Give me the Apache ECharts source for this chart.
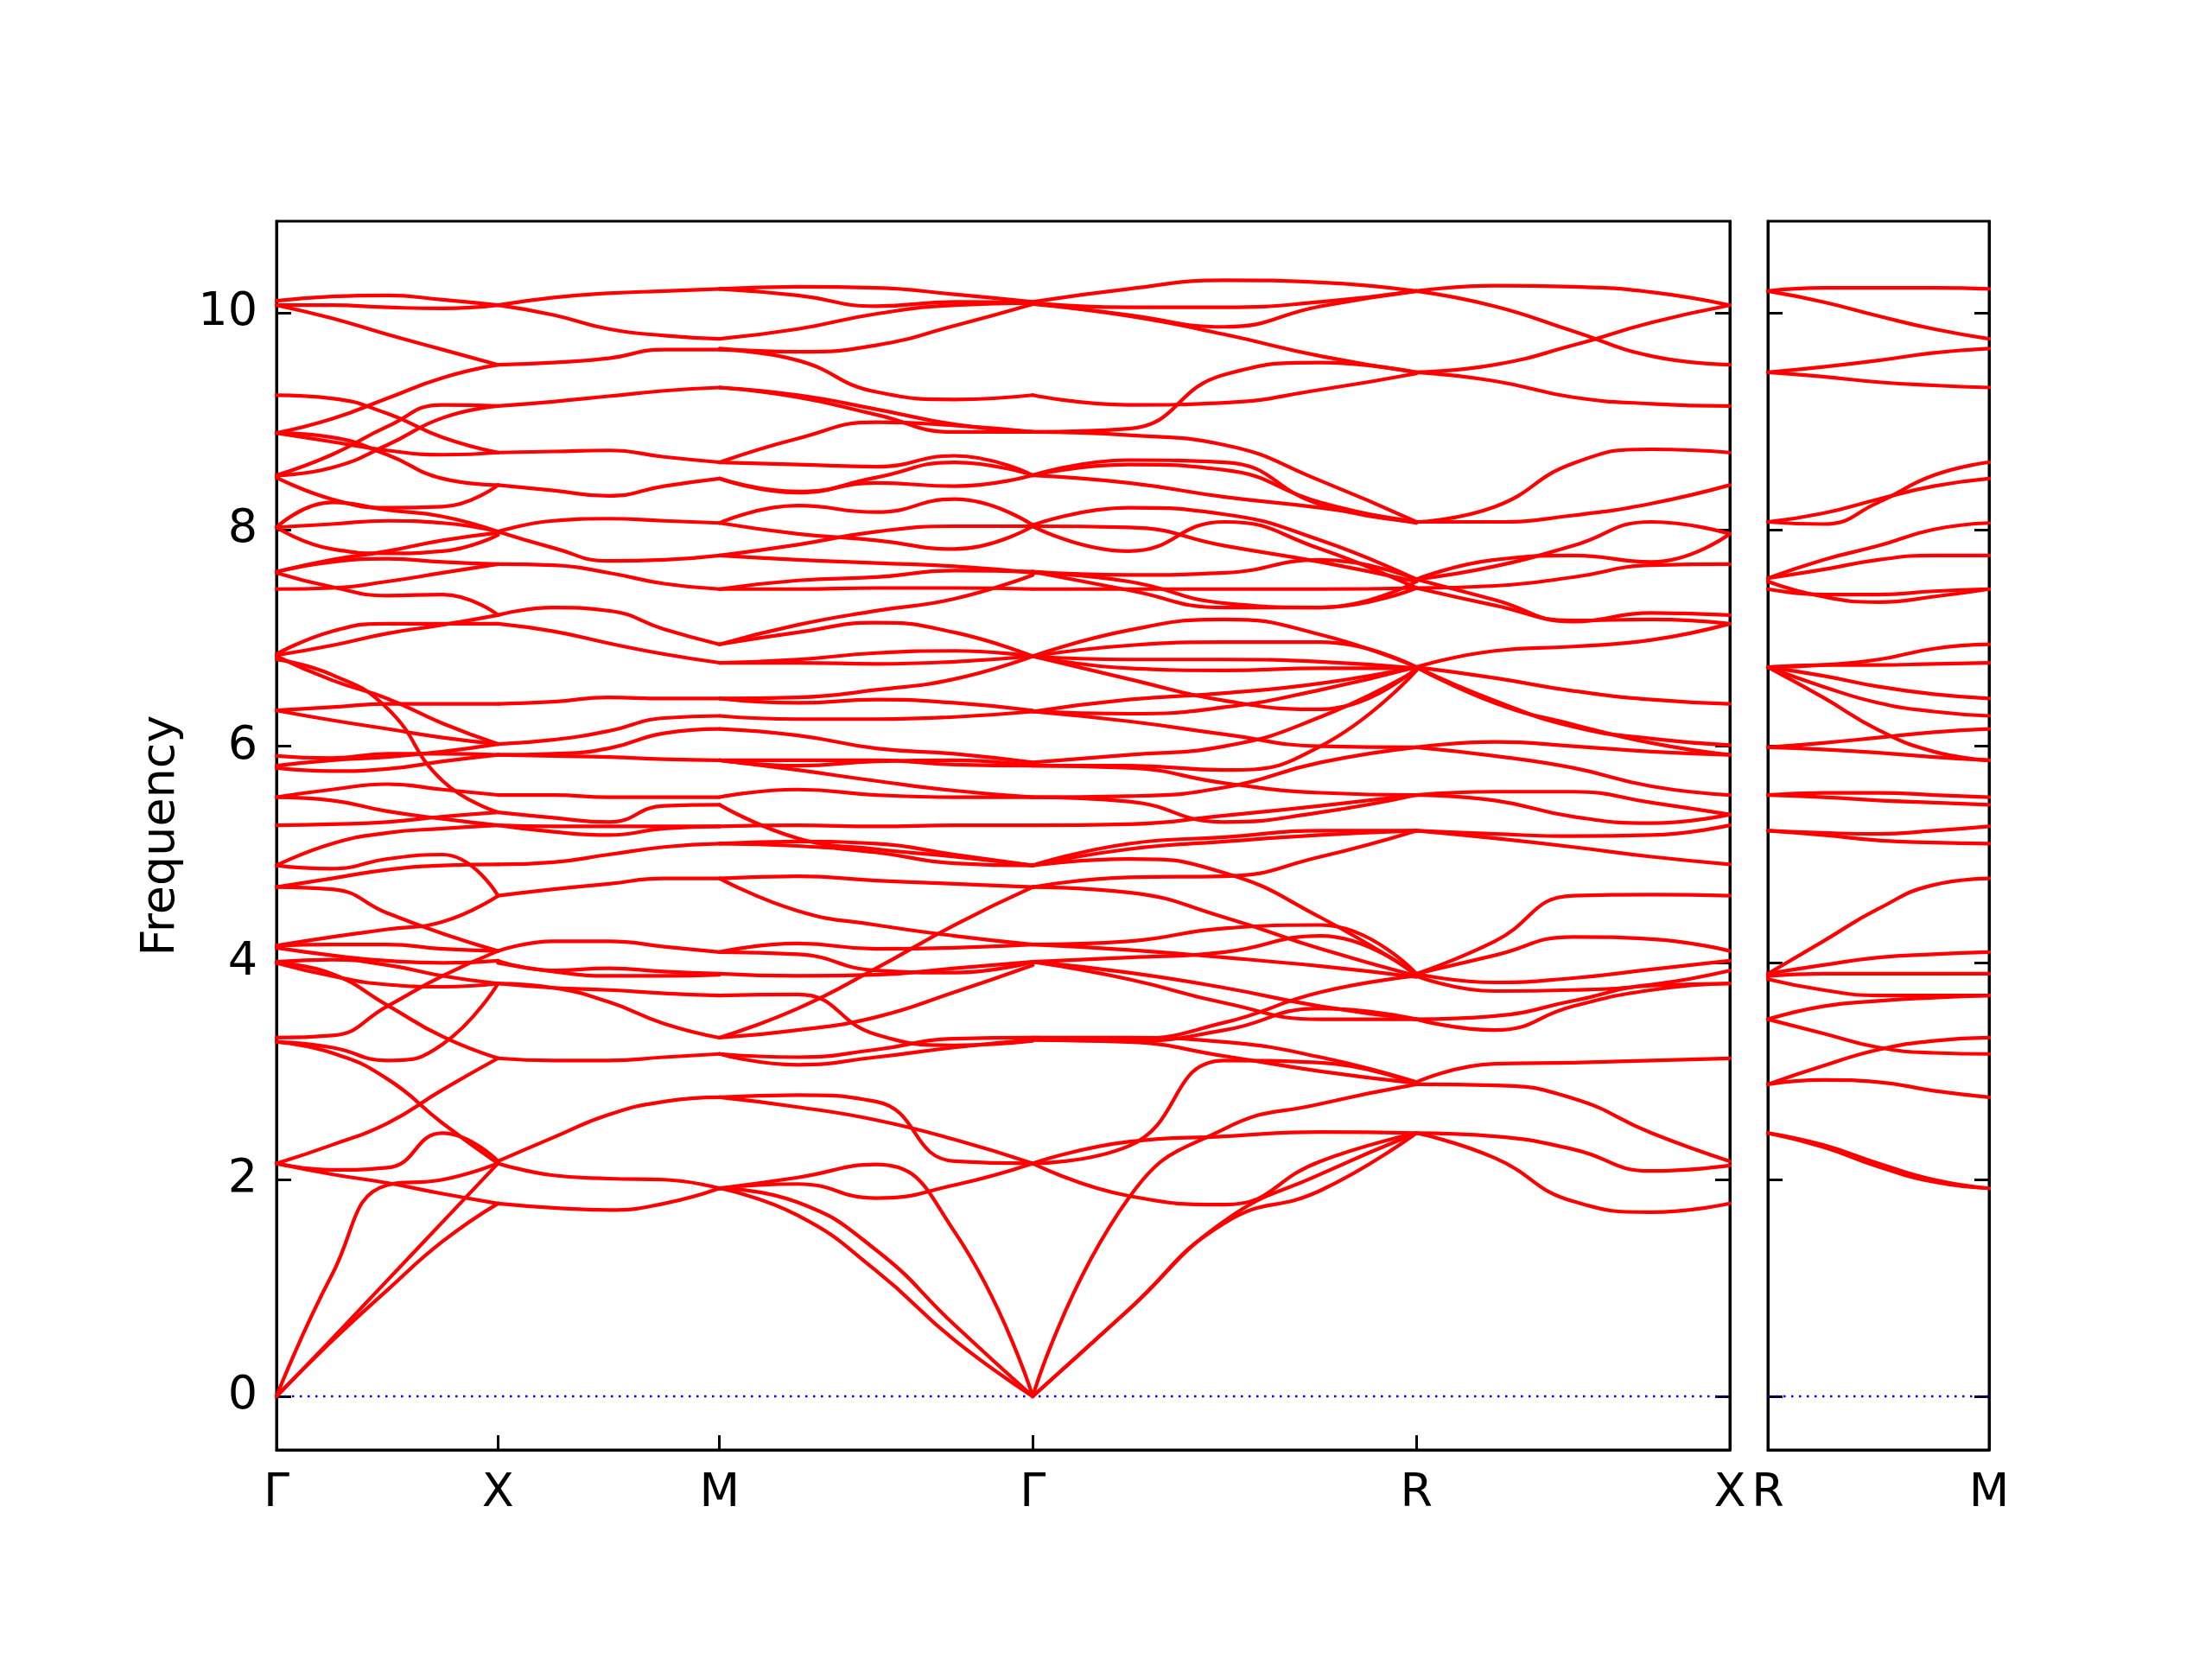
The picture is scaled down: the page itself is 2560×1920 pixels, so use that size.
<!DOCTYPE html>
<html><head><meta charset="utf-8">
<script src="https://cdn.jsdelivr.net/npm/echarts@6/dist/echarts.min.js"></script>
<style>html,body{margin:0;padding:0;background:#fff;}#chart{width:2560px;height:1920px;}</style>
</head><body><div id="chart"></div>
<script>
// High-symmetry path (distances in units of reciprocal lattice length)
const pathLabelsMain = ['Γ','X','M','Γ','R','X'];
const pathPosMain = [0, 1, 2, 3.414, 5.146, 6.561];
const pathLabelsSide = ['R','M'];
const pathPosSide = [0, 1];
const yTicks = [0, 2, 4, 6, 8, 10];

// Each band: frequencies at fractions 0, 1/4, 1/2, 3/4, 1 of the segment
const bandsGX = [
 [10.11,10.15,10.16,10.12,10.07],[10.07,10.07,10.05,10.04,10.07],[10.07,9.95,9.80,9.66,9.52],
 [8.89,9.02,9.21,9.40,9.52],[9.24,9.21,9.07,8.85,8.71],[8.50,8.69,8.95,9.15,9.14],
 [8.50,8.57,8.78,9.03,9.14],[8.89,8.81,8.73,8.69,8.71],[8.89,8.85,8.69,8.47,8.41],
 [8.48,8.28,8.20,8.21,8.41],[8.02,8.25,8.18,8.12,7.98],[8.02,8.05,8.08,8.06,7.98],
 [8.02,7.82,7.78,7.80,7.95],[7.61,7.70,7.73,7.70,7.68],[7.60,7.47,7.39,7.40,7.21],
 [7.45,7.46,7.52,7.60,7.68],[7.61,7.72,7.80,7.90,7.97],[6.85,7.06,7.13,7.13,7.13],
 [6.84,6.93,7.04,7.12,7.21],[6.33,6.36,6.39,6.39,6.39],[6.33,6.24,6.16,6.08,6.02],
 [6.83,6.61,6.44,6.21,6.02],[6.80,6.66,6.35,5.68,5.39],[5.91,5.89,5.93,5.93,5.92],
 [5.82,5.87,5.90,5.95,6.02],[5.80,5.77,5.79,5.86,5.92],[5.53,5.60,5.65,5.60,5.55],
 [5.53,5.50,5.40,5.33,5.27],[5.27,5.28,5.30,5.35,5.39],[4.90,5.10,5.20,5.24,5.27],
 [4.90,4.87,4.96,5.00,4.62],[4.70,4.78,4.86,4.90,4.91],[4.70,4.68,4.46,4.27,4.11],
 [4.16,4.24,4.31,4.38,4.62],[4.16,4.17,4.17,4.13,4.11],[4.14,4.07,4.02,4.00,4.02],
 [4.01,4.03,3.98,3.88,3.81],[4.00,3.88,3.80,3.78,3.81],[4.00,3.90,3.61,3.32,3.12],
 [3.31,3.33,3.60,3.88,4.11],[3.27,3.22,3.10,3.25,3.81],[2.15,2.32,2.52,2.83,3.12],
 [3.27,3.17,2.93,2.52,2.15],[2.15,2.09,2.11,2.43,2.17],[0,1.12,1.95,2.00,2.15],
 [2.15,2.05,1.97,1.87,1.78],[0,0.53,1.07,1.61,2.15],[0,0.51,0.98,1.43,1.78]
];
const bandsXM = [
 [10.07,10.14,10.18,10.20,10.22],[10.07,9.98,9.85,9.79,9.76],[9.52,9.54,9.58,9.66,9.66],
 [9.14,9.18,9.23,9.28,9.31],[8.71,8.72,8.73,8.67,8.62],[8.41,8.36,8.31,8.40,8.47],
 [7.98,8.08,8.10,8.08,8.06],[7.98,7.83,7.71,7.72,7.76],[7.68,7.67,7.60,7.50,7.45],
 [7.21,7.28,7.25,7.08,6.94],[7.13,7.06,6.95,6.85,6.77],
 [6.39,6.41,6.45,6.44,6.44],[6.02,6.06,6.14,6.26,6.28],[5.92,5.93,5.98,6.12,6.16],
 [5.92,5.91,5.90,5.88,5.87],[5.55,5.55,5.53,5.53,5.53],[5.39,5.34,5.30,5.45,5.46],
 [5.27,5.26,5.26,5.26,5.26],[5.27,5.21,5.18,5.24,5.26],[4.91,4.93,5.00,5.07,5.10],
 [4.62,4.68,4.73,4.78,4.78],[4.11,4.20,4.20,4.15,4.10],[4.02,3.93,3.95,3.92,3.90],
 [4.00,3.92,3.88,3.88,3.89],[3.81,3.77,3.75,3.72,3.70],[3.81,3.77,3.64,3.44,3.31],
 [3.12,3.10,3.10,3.13,3.16],
 [2.17,2.39,2.60,2.72,2.76],[2.15,2.04,2.01,2.00,1.92],[1.78,1.74,1.72,1.78,1.92]
];
const bandsMG = [
 [10.22,10.24,10.23,10.17,10.10],[10.22,10.16,10.06,10.10,10.09],[9.76,9.85,9.99,10.07,10.09],
 [9.67,9.64,9.70,9.88,10.08],[9.66,9.56,9.27,9.20,9.24],[9.31,9.24,9.11,8.97,8.90],
 [9.31,9.22,9.06,8.90,8.90],[8.62,8.84,8.99,8.96,8.90],[8.62,8.60,8.58,8.68,8.50],
 [8.47,8.35,8.48,8.62,8.50],[8.47,8.34,8.43,8.40,8.50],[8.06,8.22,8.16,8.28,8.04],
 [8.06,7.96,7.90,7.82,8.03],[7.76,7.86,7.98,8.03,8.03],[7.76,7.72,7.69,7.66,7.60],
 [7.45,7.45,7.46,7.46,7.45],[7.45,7.53,7.56,7.62,7.61],[6.94,7.12,7.25,7.36,7.58],
 [6.94,7.05,7.14,7.05,6.83],[6.77,6.77,6.76,6.78,6.83],[6.77,6.80,6.86,6.88,6.83],
 [6.44,6.45,6.52,6.62,6.83],[6.44,6.40,6.43,6.40,6.33],[6.28,6.25,6.25,6.27,6.32],
 [6.16,6.10,5.98,5.93,5.85],[5.87,5.87,5.87,5.83,5.82],[5.87,5.78,5.68,5.59,5.53],
 [5.87,5.82,5.86,5.87,5.82],[5.53,5.60,5.55,5.53,5.53],[5.46,5.15,5.05,4.98,4.90],
 [5.26,5.27,5.26,5.27,5.27],[5.10,5.12,5.10,5.00,4.90],[5.10,5.08,5.02,4.92,4.90],
 [4.78,4.80,4.76,4.73,4.70],[4.78,4.48,4.35,4.25,4.17],[4.10,4.18,4.13,4.14,4.17],
 [4.10,4.08,3.93,3.91,4.01],[3.90,3.88,3.89,3.95,4.01],[3.70,3.71,3.34,3.24,3.28],
 [3.31,3.58,3.95,4.35,4.70],[3.31,3.38,3.50,3.73,3.98],[3.16,3.06,3.13,3.22,3.29],
 [3.16,3.13,3.20,3.30,3.31],
 [2.76,2.78,2.72,2.17,2.15],[2.76,2.67,2.55,2.37,2.15],[1.92,2.02,2.14,1.52,0],
 [1.92,1.96,1.83,1.95,2.15],[1.92,1.67,1.16,0.52,0],[1.92,1.79,1.35,0.66,0]
];
const bandsGR = [
 [10.10,10.22,10.30,10.28,10.20],[10.09,10.05,10.05,10.10,10.20],[10.09,9.98,9.87,10.06,10.20],
 [10.08,9.97,9.80,9.60,9.45],[9.24,9.15,9.17,9.29,9.44],[8.90,8.93,9.43,9.54,9.45],
 [8.90,8.87,8.78,8.45,8.07],[8.50,8.64,8.62,8.23,8.07],[8.50,8.60,8.55,8.25,8.06],
 [8.50,8.43,8.30,8.20,8.07],[8.04,8.20,8.14,7.90,7.54],[8.03,8.02,7.85,7.70,7.52],
 [8.03,7.80,8.07,7.82,7.46],[7.61,7.58,7.60,7.72,7.54],[7.60,7.52,7.32,7.28,7.52],
 [7.45,7.45,7.45,7.45,7.46],[7.61,7.44,7.28,7.28,7.46],[6.83,7.07,7.17,7.03,6.73],
 [6.83,6.93,6.96,6.96,6.73],[6.83,6.80,6.80,6.78,6.72],[6.83,6.72,6.70,6.72,6.72],
 [6.32,6.43,6.49,6.58,6.73],[6.32,6.30,6.36,6.52,6.73],[6.83,6.62,6.42,6.34,6.72],
 [6.32,6.23,6.11,6.00,5.99],[5.85,5.92,6.00,6.27,6.70],[5.82,5.82,5.78,6.00,6.70],
 [5.82,5.80,5.66,5.57,5.55],[5.53,5.54,5.62,5.85,5.99],[5.53,5.49,5.30,5.39,5.55],
 [5.27,5.28,5.36,5.45,5.55],[4.90,5.10,5.16,5.22,5.22],[4.90,5.05,5.12,5.18,5.22],
 [4.70,4.79,4.80,4.98,5.22],[4.70,4.65,4.42,4.13,3.88],[4.90,4.96,4.83,4.42,3.90],
 [4.17,4.20,4.32,4.35,3.90],[4.01,4.05,4.10,4.25,3.88],[4.17,4.12,4.05,3.97,3.87],
 [4.01,3.91,3.77,3.60,3.48],[4.01,3.85,3.63,3.48,3.48],[3.31,3.30,3.45,3.73,3.88],
 [3.29,3.28,3.38,3.58,3.48],[3.31,3.31,3.27,3.13,2.90],[3.29,3.27,3.14,3.00,2.89],
 [0,1.83,2.47,2.70,2.88],[2.15,2.31,3.10,3.08,2.88],[2.15,2.35,2.40,2.44,2.43],
 [2.15,1.85,1.77,2.17,2.43],[0,0.80,1.60,1.90,2.43],[0,0.80,1.62,2.05,2.43]
];
const bandsRX = [
 [10.20,10.25,10.24,10.19,10.07],[10.20,10.06,9.83,9.60,9.52],[9.45,9.52,9.70,9.91,10.07],
 [9.45,9.37,9.22,9.16,9.14],[8.07,8.21,8.61,8.74,8.71],[8.07,8.07,8.13,8.24,8.41],
 [7.54,7.72,7.76,7.70,7.96],[7.54,7.66,7.85,8.07,7.96],[7.46,7.48,7.56,7.67,7.68],
 [7.54,7.35,7.15,7.23,7.21],[7.46,7.30,7.16,7.17,7.13],[6.73,6.88,6.92,6.98,7.13],
 [6.73,6.63,6.51,6.43,6.39],[6.73,6.42,6.18,6.07,6.01],[6.73,6.40,6.20,6.03,5.92],
 [5.99,6.04,6.00,5.95,5.92],[5.99,5.91,5.80,5.63,5.55],[5.55,5.58,5.58,5.48,5.37],
 [5.55,5.50,5.35,5.29,5.37],[5.22,5.19,5.17,5.18,5.27],[5.22,5.15,5.07,4.98,4.91],
 [3.90,4.20,4.62,4.63,4.62],[3.90,4.07,4.24,4.22,4.11],[3.90,3.82,3.86,3.94,4.02],
 [3.88,3.74,3.75,3.80,3.93],[3.48,3.51,3.65,3.79,3.81],[3.48,3.38,3.60,3.75,3.81],
 [2.90,3.07,3.08,3.10,3.12],
 [2.88,2.87,2.75,2.43,2.17],[2.43,2.40,2.28,2.08,2.13],[2.43,2.20,1.80,1.70,1.78]
];
const bandsRM = [
 [10.20,10.23,10.23,10.23,10.22],[10.20,10.10,9.97,9.85,9.76],[9.45,9.50,9.56,9.63,9.67],
 [9.45,9.41,9.36,9.33,9.31],[8.07,8.05,8.25,8.50,8.62],[8.07,8.15,8.28,8.40,8.47],
 [7.55,7.72,7.85,8.00,8.06],[7.55,7.63,7.72,7.76,7.76],[7.45,7.40,7.40,7.43,7.45],
 [7.52,7.38,7.33,7.38,7.45],[6.73,6.75,6.80,6.90,6.94],[6.73,6.75,6.75,6.76,6.77],
 [6.73,6.65,6.55,6.48,6.44],[6.73,6.55,6.40,6.32,6.28],[6.73,6.45,6.15,5.95,5.87],
 [5.99,6.03,6.08,6.13,6.16],[5.99,5.97,5.94,5.90,5.87],[5.55,5.57,5.57,5.55,5.53],
 [5.55,5.53,5.50,5.48,5.46],[5.22,5.20,5.19,5.22,5.26],[5.22,5.18,5.13,5.11,5.10],
 [3.90,4.20,4.50,4.72,4.78],[3.90,3.98,4.05,4.08,4.10],[3.88,3.90,3.90,3.90,3.90],
 [3.85,3.75,3.70,3.70,3.70],[3.48,3.60,3.65,3.68,3.70],[3.48,3.35,3.22,3.17,3.16],
 [2.88,3.05,3.20,3.28,3.31],[2.88,2.92,2.90,2.82,2.76],[2.43,2.30,2.12,1.98,1.92],
 [2.43,2.32,2.15,2.00,1.92]
];

const FONT = 'DejaVu Sans';
const RED = '#ff0000';

const segmentsMain = [
  {bands: bandsGX, from: 0, to: 1},
  {bands: bandsXM, from: 1, to: 2},
  {bands: bandsMG, from: 2, to: 3},
  {bands: bandsGR, from: 3, to: 4},
  {bands: bandsRX, from: 4, to: 5}
];

const series = [];
function addBands(bands, x0, x1, axisIdx) {
  bands.forEach(b => {
    const n = b.length - 1;
    series.push({
      type: 'line', xAxisIndex: axisIdx, yAxisIndex: axisIdx === 0 ? 0 : 2,
      data: b.map((v, j) => [x0 + (x1 - x0) * j / n, v]),
      smooth: 0.5, showSymbol: false, silent: true, z: 3,
      lineStyle: {color: RED, width: 4.2, cap: 'round', join: 'round'}
    });
  });
}
segmentsMain.forEach(s => addBands(s.bands, pathPosMain[s.from], pathPosMain[s.to], 0));
addBands(bandsRM, pathPosSide[0], pathPosSide[1], 1);

// zero reference lines (blue dotted)
const zeroStyle = {color: '#0000ff', width: 2.5, type: [2.5, 6.5], cap: 'butt'};
series.push({type:'line', xAxisIndex:0, yAxisIndex:0, data:[[pathPosMain[0],0],[pathPosMain[5],0]],
  showSymbol:false, silent:true, z:2, lineStyle: zeroStyle});
series.push({type:'line', xAxisIndex:1, yAxisIndex:2, data:[[pathPosSide[0],0],[pathPosSide[1],0]],
  showSymbol:false, silent:true, z:2, lineStyle: zeroStyle});

function labelFor(positions, labels) {
  return v => { for (let i = 0; i < positions.length; i++) if (Math.abs(positions[i] - v) < 1e-3) return labels[i]; return ''; };
}
const YMIN = -0.494, YMAX = 10.845;
const axisLineStyle = {show: true, onZero: false, lineStyle: {color: '#000', width: 3}};
function xAxisDef(gi, pos, labels) {
  return {
    gridIndex: gi, type: 'value', min: pos[0], max: pos[pos.length - 1], position: 'bottom',
    axisLine: axisLineStyle,
    axisTick: {show: true, inside: true, length: 17, lineStyle: {color: '#000', width: 3}, customValues: pos},
    axisLabel: {show: true, customValues: pos, formatter: labelFor(pos, labels), showMinLabel: true, showMaxLabel: true,
      fontSize: 54, fontFamily: FONT, color: '#000', margin: 24},
    splitLine: {show: false}
  };
}
function yAxisDef(gi, position, withLabels) {
  const a = {
    gridIndex: gi, type: 'value', min: YMIN, max: YMAX, position: position,
    axisLine: axisLineStyle,
    axisTick: {show: true, inside: true, length: 17, lineStyle: {color: '#000', width: 3}, customValues: yTicks},
    axisLabel: {show: withLabels, customValues: yTicks, fontSize: 54, fontFamily: FONT, color: '#000', margin: 22},
    splitLine: {show: false}
  };
  if (withLabels) {
    a.name = 'Frequency'; a.nameLocation = 'middle'; a.nameGap = 106;
    a.nameTextStyle = {fontSize: 54, fontFamily: FONT, color: '#000'};
  }
  return a;
}

const chart = echarts.init(document.getElementById('chart'), null, {renderer: 'canvas', width: 2560, height: 1920});
chart.setOption({
  animation: false,
  backgroundColor: '#fff',
  grid: [
    {left: 320, top: 256, width: 1682, height: 1422, show: true, borderColor: '#000', borderWidth: 3},
    {left: 2046, top: 256, width: 256, height: 1422, show: true, borderColor: '#000', borderWidth: 3}
  ],
  xAxis: [xAxisDef(0, pathPosMain, pathLabelsMain), xAxisDef(1, pathPosSide, pathLabelsSide)],
  yAxis: [yAxisDef(0, 'left', true), yAxisDef(0, 'right', false), yAxisDef(1, 'left', false), yAxisDef(1, 'right', false)],
  series: series
});
</script></body></html>
